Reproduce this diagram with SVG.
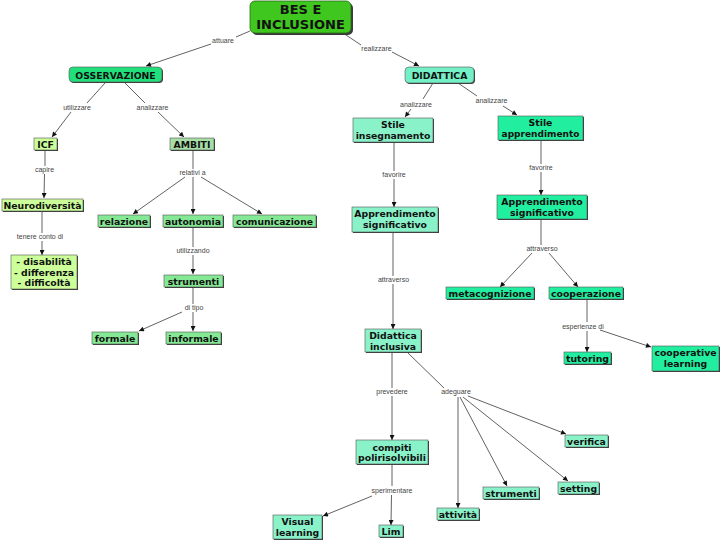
<svg xmlns="http://www.w3.org/2000/svg" width="720" height="540" viewBox="0 0 720 540">
<style>
.n{font-family:"DejaVu Sans",Verdana,sans-serif;font-weight:bold;font-size:9.3px;fill:#111;text-anchor:middle}
.big{font-size:13px}
.lbl{font-family:"Liberation Sans",Arial,sans-serif;font-size:7px;fill:#444;text-anchor:middle}
.sh{fill:#3a3a3a}
.b{stroke:#555;stroke-width:0.6}
.g1{fill:#ccff99}
.g2{fill:#a6dea6}
.g3{fill:#84e894}
.aq{fill:#8af2c9}
.sp{fill:#22eea0}
.c line{stroke:#3a3a3a;stroke-width:0.8;fill:none}
.c line.a{marker-end:url(#ar)}
</style>
<defs>
<marker id="ar" viewBox="0 0 10 10" refX="10" refY="5" markerWidth="6" markerHeight="5" markerUnits="userSpaceOnUse" orient="auto">
<path d="M0,0 L10,5 L0,10 z" fill="#111"/>
</marker>
</defs>
<rect width="720" height="540" fill="#ffffff"/>

<g id="connectors" class="c">
<line x1="250" y1="31" x2="236" y2="37"/>
<line class="a" x1="211" y1="44" x2="146" y2="66"/>
<text class="lbl" x="223" y="43">attuare</text>
<line x1="343" y1="33" x2="361" y2="45"/>
<line class="a" x1="392" y1="52" x2="419" y2="66"/>
<text class="lbl" x="376.5" y="50.5">realizzare</text>
<line x1="105" y1="83" x2="87" y2="103"/>
<line class="a" x1="71" y1="112" x2="52" y2="137"/>
<text class="lbl" x="77" y="109.5">utilizzare</text>
<line x1="125" y1="83" x2="145" y2="103"/>
<line class="a" x1="158" y1="112" x2="184" y2="137"/>
<text class="lbl" x="152.5" y="109.5">analizzare</text>
<line x1="45" y1="150" x2="45" y2="166"/>
<line class="a" x1="44.5" y1="174" x2="44" y2="198"/>
<text class="lbl" x="44.5" y="172">capire</text>
<line x1="42" y1="211" x2="42" y2="233"/>
<line class="a" x1="42" y1="241" x2="42" y2="255"/>
<text class="lbl" x="40" y="239">tenere conto di</text>
<line x1="193" y1="150" x2="193" y2="169"/>
<line class="a" x1="185" y1="177" x2="133" y2="214"/>
<line class="a" x1="193" y1="177" x2="193" y2="214"/>
<line class="a" x1="201" y1="177" x2="262" y2="214"/>
<text class="lbl" x="192.5" y="174.5">relativi a</text>
<line x1="193" y1="227" x2="193" y2="247"/>
<line class="a" x1="193" y1="255" x2="193" y2="274"/>
<text class="lbl" x="193" y="252.5">utilizzando</text>
<line x1="193" y1="287" x2="193" y2="304"/>
<line class="a" x1="182" y1="312" x2="139" y2="331"/>
<line class="a" x1="193" y1="312" x2="193" y2="331"/>
<text class="lbl" x="194" y="309.5">di tipo</text>
<line x1="433" y1="83" x2="423" y2="99"/>
<line class="a" x1="411" y1="109" x2="405" y2="117"/>
<text class="lbl" x="416" y="107">analizzare</text>
<line x1="458" y1="83" x2="477" y2="96"/>
<line class="a" x1="503" y1="106" x2="517" y2="115"/>
<text class="lbl" x="491.5" y="103">analizzare</text>
<line x1="394" y1="142" x2="394" y2="171"/>
<line class="a" x1="394" y1="179" x2="394" y2="207"/>
<text class="lbl" x="394" y="176.5">favorire</text>
<line x1="541" y1="140" x2="541" y2="164"/>
<line class="a" x1="541" y1="172" x2="541" y2="195"/>
<text class="lbl" x="541" y="170">favorire</text>
<line x1="541" y1="219" x2="541" y2="245"/>
<line class="a" x1="532" y1="253" x2="500" y2="287"/>
<line class="a" x1="549" y1="253" x2="578" y2="287"/>
<text class="lbl" x="542" y="250.5">attraverso</text>
<line x1="393" y1="232" x2="393" y2="276"/>
<line class="a" x1="393" y1="284" x2="393" y2="329"/>
<text class="lbl" x="393.5" y="281.5">attraverso</text>
<line x1="587" y1="299" x2="587" y2="322"/>
<line class="a" x1="587" y1="331" x2="587" y2="352"/>
<line class="a" x1="600" y1="330" x2="651" y2="347"/>
<text class="lbl" x="583" y="328.5">esperienze di</text>
<line x1="392" y1="352" x2="392" y2="388"/>
<line class="a" x1="392" y1="396" x2="392" y2="440"/>
<text class="lbl" x="392" y="394">prevedere</text>
<line x1="408" y1="353" x2="444" y2="388"/>
<line class="a" x1="468" y1="396" x2="566" y2="434"/>
<line class="a" x1="463" y1="397" x2="568" y2="481"/>
<line class="a" x1="460" y1="397" x2="507" y2="486"/>
<line class="a" x1="458" y1="397" x2="458" y2="508"/>
<text class="lbl" x="456" y="394">adeguare</text>
<line x1="392" y1="464" x2="392" y2="486"/>
<line class="a" x1="391.5" y1="495" x2="391" y2="525"/>
<line class="a" x1="372" y1="496" x2="323" y2="516"/>
<text class="lbl" x="392" y="492.5">sperimentare</text>
</g>

<g id="bes">
<rect class="sh" x="252" y="3" width="101" height="32" rx="5"/>
<rect x="250" y="1" width="101" height="32" rx="5" fill="#3fc61f" stroke="#2a6a1a" stroke-width="0.8"/>
<text class="n big" x="300.5" y="14">BES E</text>
<text class="n big" x="300.5" y="28.5">INCLUSIONE</text>
</g>
<g id="osservazione">
<rect class="sh" x="70" y="68" width="93" height="15" rx="4"/>
<rect class="b" x="69" y="67" width="93" height="15" rx="4" fill="#21e07b"/>
<text class="n" x="115.5" y="78.5">OSSERVAZIONE</text>
</g>
<g id="didattica">
<rect class="sh" x="406" y="68" width="69" height="16" rx="4"/>
<rect class="b" x="405" y="67" width="69" height="16" rx="4" fill="#73f0c6"/>
<text class="n" x="439.5" y="79">DIDATTICA</text>
</g>
<g id="icf">
<rect class="sh" x="35" y="139" width="23" height="12"/>
<rect class="b g1" x="34" y="138" width="23" height="12"/>
<text class="n" x="45.5" y="147.5">ICF</text>
</g>
<g id="ambiti">
<rect class="sh" x="171" y="139" width="44" height="12"/>
<rect class="b g2" x="170" y="138" width="44" height="12"/>
<text class="n" x="192" y="147.5">AMBITI</text>
</g>
<g id="neurodiversita">
<rect class="sh" x="3" y="200" width="81" height="12"/>
<rect class="b g1" x="2" y="199" width="81" height="12"/>
<text class="n" x="42.5" y="208.5">Neurodiversità</text>
</g>
<g id="disabilita">
<rect class="sh" x="12" y="256" width="66" height="34"/>
<rect class="b g1" x="11" y="255" width="66" height="34"/>
<text class="n" x="44" y="265">- disabilità</text>
<text class="n" x="44" y="275.5">- differenza</text>
<text class="n" x="44" y="286">- difficoltà</text>
</g>
<g id="relazione">
<rect class="sh" x="99" y="216" width="52" height="12"/>
<rect class="b g3" x="98" y="215" width="52" height="12"/>
<text class="n" x="124" y="224.5">relazione</text>
</g>
<g id="autonomia">
<rect class="sh" x="164" y="216" width="60" height="12"/>
<rect class="b g3" x="163" y="215" width="60" height="12"/>
<text class="n" x="193" y="224.5">autonomia</text>
</g>
<g id="comunicazione">
<rect class="sh" x="234" y="216" width="83" height="12"/>
<rect class="b g3" x="233" y="215" width="83" height="12"/>
<text class="n" x="274.5" y="224.5" textLength="77" lengthAdjust="spacingAndGlyphs">comunicazione</text>
</g>
<g id="strumenti-l">
<rect class="sh" x="165" y="276" width="59" height="12"/>
<rect class="b g3" x="164" y="275" width="59" height="12"/>
<text class="n" x="193.5" y="284.5">strumenti</text>
</g>
<g id="formale">
<rect class="sh" x="93" y="333" width="46" height="12"/>
<rect class="b g3" x="92" y="332" width="46" height="12"/>
<text class="n" x="115" y="341.5">formale</text>
</g>
<g id="informale">
<rect class="sh" x="167" y="333" width="55" height="12"/>
<rect class="b g3" x="166" y="332" width="55" height="12"/>
<text class="n" x="193.5" y="341.5">informale</text>
</g>
<g id="stile-insegnamento">
<rect class="sh" x="354" y="119" width="80" height="24"/>
<rect class="b aq" x="353" y="118" width="80" height="24"/>
<text class="n" x="393" y="128">Stile</text>
<text class="n" x="393" y="138.5">insegnamento</text>
</g>
<g id="stile-apprendimento">
<rect class="sh" x="499" y="117" width="85" height="24"/>
<rect class="b sp" x="498" y="116" width="85" height="24"/>
<text class="n" x="540.5" y="126">Stile</text>
<text class="n" x="540.5" y="136.5" style="font-size:9px">apprendimento</text>
</g>
<g id="app-sig-l">
<rect class="sh" x="353" y="208" width="86" height="25"/>
<rect class="b aq" x="352" y="207" width="86" height="25"/>
<text class="n" x="395" y="216.5">Apprendimento</text>
<text class="n" x="395" y="227.5">significativo</text>
</g>
<g id="app-sig-r">
<rect class="sh" x="498" y="196" width="90" height="24"/>
<rect class="b sp" x="497" y="195" width="90" height="24"/>
<text class="n" x="542" y="204.5">Apprendimento</text>
<text class="n" x="542" y="215.5">significativo</text>
</g>
<g id="metacognizione">
<rect class="sh" x="447" y="288" width="88" height="12"/>
<rect class="b sp" x="446" y="287" width="88" height="12"/>
<text class="n" x="490" y="296.5">metacognizione</text>
</g>
<g id="cooperazione">
<rect class="sh" x="550" y="288" width="74" height="12"/>
<rect class="b sp" x="549" y="287" width="74" height="12"/>
<text class="n" x="586" y="296.5">cooperazione</text>
</g>
<g id="tutoring">
<rect class="sh" x="565" y="353" width="47" height="12"/>
<rect class="b sp" x="564" y="352" width="47" height="12"/>
<text class="n" x="587.5" y="361.5">tutoring</text>
</g>
<g id="cooperative-learning">
<rect class="sh" x="653" y="347" width="67" height="25"/>
<rect class="b sp" x="652" y="346" width="67" height="25"/>
<text class="n" x="685.5" y="356">cooperative</text>
<text class="n" x="685.5" y="367">learning</text>
</g>
<g id="didattica-inclusiva">
<rect class="sh" x="366" y="330" width="56" height="23"/>
<rect class="b aq" x="365" y="329" width="56" height="23"/>
<text class="n" x="393" y="339">Didattica</text>
<text class="n" x="393" y="349.5">inclusiva</text>
</g>
<g id="compiti">
<rect class="sh" x="357" y="441" width="72" height="24"/>
<rect class="b aq" x="356" y="440" width="72" height="24"/>
<text class="n" x="392" y="450.5">compiti</text>
<text class="n" x="392" y="461">polirisolvibili</text>
</g>
<g id="verifica">
<rect class="sh" x="566" y="436" width="43" height="12"/>
<rect class="b aq" x="565" y="435" width="43" height="12"/>
<text class="n" x="586.5" y="444.5">verifica</text>
</g>
<g id="setting">
<rect class="sh" x="559" y="483" width="41" height="12"/>
<rect class="b aq" x="558" y="482" width="41" height="12"/>
<text class="n" x="578.5" y="491.5">setting</text>
</g>
<g id="strumenti-r">
<rect class="sh" x="484" y="488" width="56" height="12"/>
<rect class="b aq" x="483" y="487" width="56" height="12"/>
<text class="n" x="511" y="496.5">strumenti</text>
</g>
<g id="attivita">
<rect class="sh" x="438" y="509" width="42" height="12"/>
<rect class="b aq" x="437" y="508" width="42" height="12"/>
<text class="n" x="458" y="517.5">attività</text>
</g>
<g id="visual-learning">
<rect class="sh" x="274" y="516" width="49" height="24"/>
<rect class="b aq" x="273" y="515" width="49" height="24"/>
<text class="n" x="297.5" y="524.5">Visual</text>
<text class="n" x="297.5" y="535.5">learning</text>
</g>
<g id="lim">
<rect class="sh" x="380" y="526" width="24" height="12"/>
<rect class="b aq" x="379" y="525" width="24" height="12"/>
<text class="n" x="391" y="534.5">Lim</text>
</g>
</svg>
